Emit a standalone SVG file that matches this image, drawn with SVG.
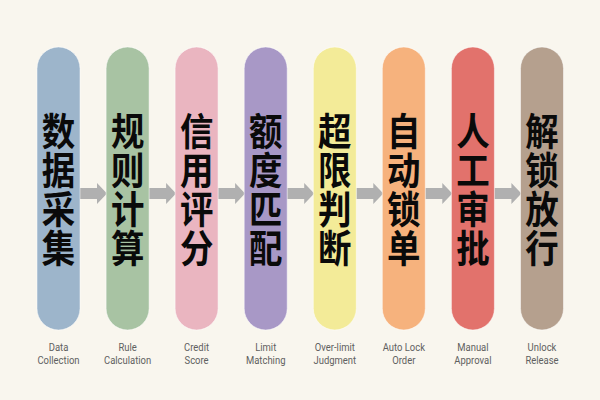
<svg xmlns="http://www.w3.org/2000/svg" width="600" height="400" viewBox="0 0 600 400">
<style>
.pill{stroke:#ffffff;stroke-opacity:0.5;stroke-width:1}
.zh{font-family:"Noto Sans CJK SC",sans-serif;font-weight:700;font-size:38px;fill:#0a0a0a;text-anchor:middle}
.en{font-family:Roboto,"Liberation Sans",sans-serif;font-size:11px;fill:#606060;text-anchor:middle}
.arrow{fill:#b0b0b0}
</style>
<defs>
<path id="arr" d="M0,188 H17 V183 L27,193.5 L17,204 V199 H0 Z"/>
</defs>
<rect width="600" height="400" fill="#f9f6ee"/>
<g id="connectors" class="arrow">
<use href="#arr" x="80"/>
<use href="#arr" x="149.1"/>
<use href="#arr" x="218.1"/>
<use href="#arr" x="287.2"/>
<use href="#arr" x="356.3"/>
<use href="#arr" x="425.3"/>
<use href="#arr" x="494.4"/>
</g>
<g id="n1">
<rect class="pill" x="37" y="47" width="43" height="283" rx="21.5" fill="#9db5cb"/>
<g transform="translate(58.5 0) scale(0.88 1)"><text class="zh" x="0" y="145">数</text><text class="zh" x="0" y="184">据</text><text class="zh" x="0" y="223">采</text><text class="zh" x="0" y="262">集</text></g>
<g transform="translate(58.5 0) scale(0.86 1)"><text class="en" x="0" y="351">Data</text><text class="en" x="0" y="364">Collection</text></g>
</g>
<g id="n2">
<rect class="pill" x="106.1" y="47" width="43" height="283" rx="21.5" fill="#a8c3a3"/>
<g transform="translate(127.6 0) scale(0.88 1)"><text class="zh" x="0" y="145">规</text><text class="zh" x="0" y="184">则</text><text class="zh" x="0" y="223">计</text><text class="zh" x="0" y="262">算</text></g>
<g transform="translate(127.6 0) scale(0.86 1)"><text class="en" x="0" y="351">Rule</text><text class="en" x="0" y="364">Calculation</text></g>
</g>
<g id="n3">
<rect class="pill" x="175.1" y="47" width="43" height="283" rx="21.5" fill="#eab5c0"/>
<g transform="translate(196.6 0) scale(0.88 1)"><text class="zh" x="0" y="145">信</text><text class="zh" x="0" y="184">用</text><text class="zh" x="0" y="223">评</text><text class="zh" x="0" y="262">分</text></g>
<g transform="translate(196.6 0) scale(0.86 1)"><text class="en" x="0" y="351">Credit</text><text class="en" x="0" y="364">Score</text></g>
</g>
<g id="n4">
<rect class="pill" x="244.2" y="47" width="43" height="283" rx="21.5" fill="#a898c6"/>
<g transform="translate(265.7 0) scale(0.88 1)"><text class="zh" x="0" y="145">额</text><text class="zh" x="0" y="184">度</text><text class="zh" x="0" y="223">匹</text><text class="zh" x="0" y="262">配</text></g>
<g transform="translate(265.7 0) scale(0.86 1)"><text class="en" x="0" y="351">Limit</text><text class="en" x="0" y="364">Matching</text></g>
</g>
<g id="n5">
<rect class="pill" x="313.3" y="47" width="43" height="283" rx="21.5" fill="#f3eb98"/>
<g transform="translate(334.8 0) scale(0.88 1)"><text class="zh" x="0" y="145">超</text><text class="zh" x="0" y="184">限</text><text class="zh" x="0" y="223">判</text><text class="zh" x="0" y="262">断</text></g>
<g transform="translate(334.8 0) scale(0.86 1)"><text class="en" x="0" y="351">Over-limit</text><text class="en" x="0" y="364">Judgment</text></g>
</g>
<g id="n6">
<rect class="pill" x="382.3" y="47" width="43" height="283" rx="21.5" fill="#f6b27d"/>
<g transform="translate(403.8 0) scale(0.88 1)"><text class="zh" x="0" y="145">自</text><text class="zh" x="0" y="184">动</text><text class="zh" x="0" y="223">锁</text><text class="zh" x="0" y="262">单</text></g>
<g transform="translate(403.8 0) scale(0.86 1)"><text class="en" x="0" y="351">Auto Lock</text><text class="en" x="0" y="364">Order</text></g>
</g>
<g id="n7">
<rect class="pill" x="451.4" y="47" width="43" height="283" rx="21.5" fill="#e2726c"/>
<g transform="translate(472.9 0) scale(0.88 1)"><text class="zh" x="0" y="145">人</text><text class="zh" x="0" y="184">工</text><text class="zh" x="0" y="223">审</text><text class="zh" x="0" y="262">批</text></g>
<g transform="translate(472.9 0) scale(0.86 1)"><text class="en" x="0" y="351">Manual</text><text class="en" x="0" y="364">Approval</text></g>
</g>
<g id="n8">
<rect class="pill" x="520.5" y="47" width="43" height="283" rx="21.5" fill="#b5a08e"/>
<g transform="translate(542 0) scale(0.88 1)"><text class="zh" x="0" y="145">解</text><text class="zh" x="0" y="184">锁</text><text class="zh" x="0" y="223">放</text><text class="zh" x="0" y="262">行</text></g>
<g transform="translate(542 0) scale(0.86 1)"><text class="en" x="0" y="351">Unlock</text><text class="en" x="0" y="364">Release</text></g>
</g>
</svg>
